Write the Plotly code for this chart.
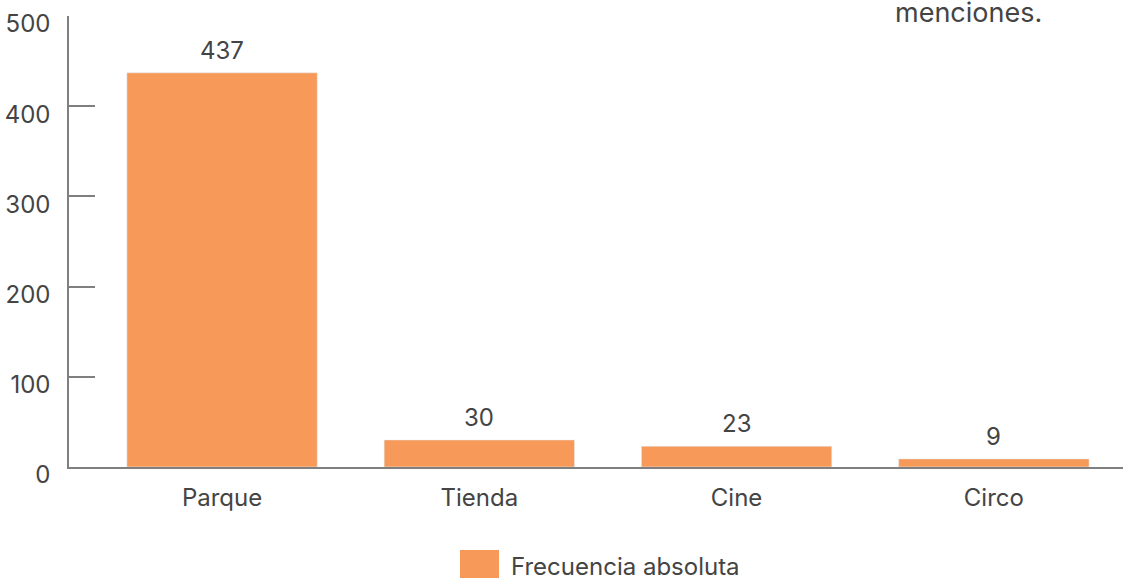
import plotly.graph_objects as go

categories = ["Parque", "Tienda", "Cine", "Circo"]
values = [437, 30, 23, 9]
series_name = "Frecuencia absoluta"
y_ticks = [0, 100, 200, 300, 400, 500]
title_tail = "menciones."

BAR = "#F79A59"
TXT = "#444444"
AX = "#7f7f7f"
FONT = "Inter"
FS = 24

fig = go.Figure()
fig.add_trace(go.Bar(x=categories, y=values, marker_color=BAR, width=0.74,
                     name=series_name, showlegend=False, hoverinfo="skip"))

for c, v in zip(categories, values):
    fig.add_annotation(x=c, y=v, text=str(v), showarrow=False, yanchor="bottom",
                       yshift=6, font=dict(family=FONT, size=FS, color=TXT))

fig.add_annotation(xref="paper", yref="paper", x=(968 - 69) / 1054, y=1.0,
                   xanchor="center", yanchor="bottom", yshift=-15,
                   text=title_tail, showarrow=False,
                   font=dict(family=FONT, size=27, color=TXT))

# custom legend
fig.add_shape(type="rect", xref="paper", yref="paper",
              x0=(460 - 69) / 1054, x1=(499 - 69) / 1054,
              y0=(467 - 578) / 451, y1=(467 - 550) / 451,
              fillcolor=BAR, line_width=0)
fig.add_annotation(xref="paper", yref="paper", x=(509 - 69) / 1054,
                   y=(467 - 566) / 451, xanchor="left", yanchor="middle",
                   text=series_name, showarrow=False,
                   font=dict(family=FONT, size=FS, color=TXT))

fig.update_layout(
    width=1123, height=579,
    margin=dict(l=69, r=0, t=16, b=112, autoexpand=False),
    plot_bgcolor="white", paper_bgcolor="white",
    font=dict(family=FONT, size=FS, color=TXT),
)
fig.update_xaxes(range=[-0.595, 3.502], showgrid=False, showline=True,
                 linecolor=AX, linewidth=1.5, ticks="", ticklabelstandoff=8,
                 automargin=False,
                 tickfont=dict(family=FONT, size=FS, color=TXT))
fig.update_yaxes(range=[0, 500], tickvals=y_ticks, showgrid=False, zeroline=False,
                 showline=True, linecolor=AX, linewidth=1.5, ticks="inside",
                 ticklen=26, tickcolor=AX, tickwidth=1.5, ticklabelstandoff=12,
                 ticklabelshift=8, automargin=False, ticklabeloverflow="allow",
                 tickfont=dict(family=FONT, size=FS, color=TXT))

fig.write_html("out.html", config={"displayModeBar": False},
               post_script="document.body.style.margin='0';document.body.style.overflow='hidden';")
